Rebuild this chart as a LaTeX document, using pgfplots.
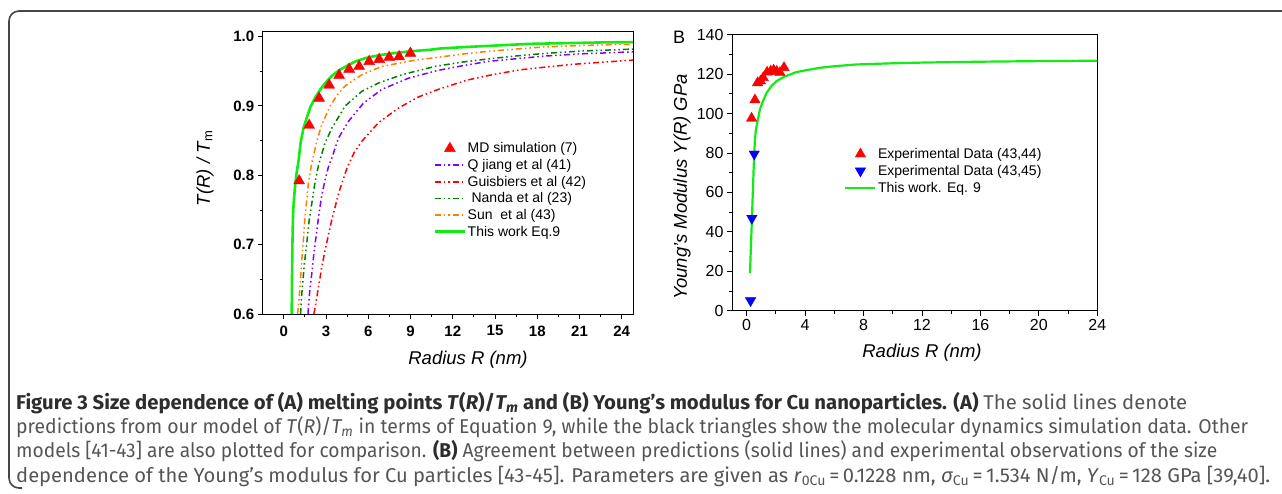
\documentclass[border=0pt]{standalone}
\usepackage{fontspec}
\setmainfont{Liberation Sans}
\newfontfamily\capfont{Fira Sans}
\usepackage{graphicx}
\usepackage{pgfplots}
\pgfplotsset{compat=1.18}

\definecolor{eqgreen}{RGB}{20,235,20}
\definecolor{qpurple}{RGB}{128,0,255}
\definecolor{gred}{RGB}{255,0,0}
\definecolor{ndgreen}{RGB}{0,128,0}
\definecolor{sorange}{RGB}{255,128,0}
\definecolor{eblue}{RGB}{0,0,255}
\definecolor{capdark}{RGB}{45,45,45}
\definecolor{capgray}{RGB}{85,85,85}
\definecolor{frame}{RGB}{70,70,70}

\newsavebox\capbox
\newlength\caplen
\newcommand\fitline[2]{\sbox\capbox{#2}\setlength\caplen{\wd\capbox}\pgfmathsetmacro\capscale{#1/\caplen}\scalebox{\capscale}[1]{\usebox\capbox}}

\tikzset{ddd/.style={dash pattern=on 6pt off 3pt on 1.5pt off 3pt on 1.5pt off 3pt, line width=1.5pt}}

\pgfplotsset{
  common/.style={
    scale only axis, anchor=south west,
    tick align=outside, tick pos=left,
    major tick length=5pt, minor tick length=3pt,
    minor x tick num=1, minor y tick num=1,
    axis line style={line width=1pt},
    every tick/.style={black, line width=0.9pt},
    /pgf/number format/assume math mode=true,
    legend cell align=left,
    legend image code/.code={\pgfpathrectangle{\pgfpoint{0pt}{-4pt}}{\pgfpoint{30pt}{8pt}}\pgfusepath{}\draw[mark repeat=2,mark phase=2,##1] plot coordinates {(0pt,0pt) (15pt,0pt) (30pt,0pt)};},
  }
}

\begin{document}
\begin{tikzpicture}
\useasboundingbox (0pt,0pt) rectangle (1282pt,493pt);
\draw[color=frame, line width=1.6pt] (1282pt,482pt) -- (19pt,482pt) arc[start angle=90,end angle=180,radius=10pt] -- (9pt,15pt) arc[start angle=180,end angle=270,radius=10pt] -- (22pt,5pt);

% ---------------- Panel A ----------------
\begin{axis}[common,
  at={(262.7pt,179pt)},
  width=370.3pt, height=282.3pt,
  xmin=-1.5, xmax=24.8, ymin=0.6, ymax=1.007,
  xtick={0,3,...,24}, ytick={0.6,0.7,0.8,0.9,1.0},
  ticklabel style={font=\fontsize{15}{15}\selectfont\bfseries},
  xticklabel style={yshift=-3pt},
  yticklabel style={/pgf/number format/.cd, fixed, fixed zerofill, precision=1},
  legend style={draw=none, fill=none, at={(0.461,0.613)}, anchor=north west,
    font=\fontsize{14}{14}\selectfont, row sep=2pt, inner sep=0pt,
    nodes={inner sep=1.5pt}},
]
\addplot[only marks, mark=triangle*, mark size=6.3pt, color=gred] coordinates {
(1.09,0.792) (1.80,0.872) (2.51,0.911) (3.22,0.930) (3.93,0.944) (4.64,0.953)
(5.35,0.957) (6.06,0.964) (6.77,0.967) (7.48,0.970) (8.19,0.971) (8.99,0.976)};
\addlegendentry{MD simulation (7)}

\addplot[ddd, color=qpurple] coordinates {
(1.72,0.600) (1.75,0.611) (1.85,0.635) (1.99,0.659) (2.15,0.690) (2.35,0.721)
(2.50,0.745) (2.70,0.772) (2.95,0.795) (3.18,0.813) (3.41,0.825) (3.89,0.854)
(4.60,0.878) (5.66,0.904) (6.97,0.924) (8.86,0.940) (10.9,0.951) (12.7,0.958)
(14.64,0.9645) (16.5,0.968) (18.43,0.9717) (21.0,0.975) (23.6,0.977) (24.8,0.978)};
\addlegendentry{Q jiang et al (41)}

\addplot[ddd, color=gred] coordinates {
(2.13,0.600) (2.23,0.610) (2.47,0.640) (2.70,0.668) (2.94,0.693) (3.41,0.736)
(3.89,0.774) (4.48,0.810) (5.00,0.833) (5.54,0.849) (6.73,0.876) (8.15,0.897)
(9.57,0.913) (10.99,0.924) (12.98,0.937) (14.8,0.945) (16.77,0.952) (18.6,0.956)
(20.56,0.960) (22.6,0.963) (24.8,0.966)};
\addlegendentry{Guisbiers et al (42)}

\addplot[ddd, color=ndgreen] coordinates {
(1.19,0.600) (1.28,0.630) (1.45,0.670) (1.63,0.702) (1.80,0.735) (1.99,0.760)
(2.20,0.788) (2.47,0.815) (2.90,0.845) (3.41,0.868) (4.36,0.900) (5.54,0.921)
(6.73,0.933) (8.39,0.945) (10.75,0.957) (12.6,0.963) (14.64,0.968) (16.5,0.972)
(18.43,0.9755) (21.0,0.979) (23.6,0.981) (24.8,0.982)};
\addlegendentry{\ Nanda et al (23)}

\addplot[ddd, color=sorange] coordinates {
(0.97,0.600) (1.04,0.611) (1.15,0.640) (1.28,0.678) (1.40,0.710) (1.51,0.741)
(1.63,0.765) (1.75,0.790) (1.99,0.818) (2.35,0.850) (2.70,0.873) (3.29,0.900)
(3.80,0.916) (4.36,0.929) (5.54,0.945) (6.97,0.957) (9.33,0.966) (10.9,0.970)
(12.8,0.975) (14.64,0.979) (16.5,0.982) (18.43,0.985) (21.0,0.987) (23.6,0.9885) (24.8,0.989)};
\addlegendentry{Sun\ \ et al (43)}

\addplot[color=eqgreen, line width=2.6pt] coordinates {
(0.56,0.600) (0.58,0.650) (0.61,0.700) (0.65,0.740) (0.70,0.760) (0.80,0.785)
(0.92,0.805) (1.04,0.820) (1.20,0.848) (1.40,0.868) (1.63,0.883) (1.90,0.899)
(2.23,0.912) (2.60,0.924) (2.94,0.933) (3.40,0.943) (3.89,0.951) (4.50,0.958)
(5.07,0.964) (5.80,0.969) (6.73,0.973) (7.80,0.976) (9.10,0.979) (10.4,0.981)
(11.2,0.983) (13.0,0.985) (15.0,0.987) (17.5,0.9895) (20.0,0.9905) (22.5,0.9915) (24.8,0.992)};
\addlegendentry{This work Eq.9}
\end{axis}

% ---------------- Panel B ----------------
\begin{axis}[common,
  at={(732pt,182.3pt)},
  width=365.3pt, height=276pt,
  xmin=-1, xmax=24, ymin=0, ymax=140,
  xtick={0,4,...,24}, ytick={0,20,...,140},
  ticklabel style={font=\fontsize{16}{16}\selectfont},
  legend style={draw=none, fill=none, at={(0.307,0.595)}, anchor=north west,
    font=\fontsize{14}{14}\selectfont, row sep=2.3pt, inner sep=0pt,
    nodes={inner sep=1.5pt}},
]
\addplot[only marks, mark=triangle*, mark size=6pt, color=gred] coordinates {
(0.34,97.6) (0.57,106.9) (0.75,115.6) (0.95,116.5) (1.14,118.2) (1.40,121.0)
(1.65,121.5) (1.85,122.0) (2.06,121.4) (2.28,120.8) (2.56,123.3)};
\addlegendentry{Experimental Data (43,44)}

\addplot[only marks, mark=triangle*, mark size=6pt, mark options={rotate=180}, color=eblue] coordinates {
(0.27,5.1) (0.36,46.9) (0.52,79.5)};
\addlegendentry{Experimental Data (43,45)}

\addplot[color=eqgreen, line width=2.2pt] coordinates {
(0.23,19) (0.36,46) (0.50,76) (0.57,87) (0.64,92) (0.80,98) (0.91,102) (1.10,106)
(1.37,110.5) (1.70,114) (2.06,116.5) (2.60,118.8) (3.40,121) (4.00,121.9) (5.00,123.2)
(6.00,124) (7.50,124.9) (10.0,125.5) (12.3,125.9) (16.0,126.3) (20.0,126.6) (24.0,126.8)};
\addlegendentry{This work. Eq. 9}
\end{axis}

% ---------------- labels ----------------
\node[font=\fontsize{18.5}{18.5}\selectfont\itshape] at (468pt,133pt) {Radius R (nm)};
\node[font=\fontsize{18.5}{18.5}\selectfont\itshape] at (922pt,140pt) {Radius R (nm)};
\node[rotate=90, font=\fontsize{18.5}{18.5}\selectfont] at (205pt,325pt) {\textit{T(R) / T}\textsubscript{m}};
\node[rotate=90, font=\fontsize{18.5}{18.5}\selectfont\itshape] at (682pt,306pt) {Young's Modulus Y(R) GPa};
\node[font=\fontsize{18}{18}\selectfont] at (679pt,456pt) {B};

% ---------------- caption ----------------
\begin{scope}[every node/.style={anchor=base west, inner sep=0pt}]
\node at (16pt,84pt) {\fitline{1171}{\capfont\fontsize{20}{22}\selectfont\color{capdark}\bfseries Figure 3 Size dependence of (A) melting points \textit{T}(\textit{R})/\textit{T\textsubscript{m}} and (B) Young’s modulus for Cu nanoparticles. (A) {\mdseries\color{capgray}The solid lines denote}}};
\node at (16pt,60pt) {\fitline{1232}{\capfont\fontsize{20}{22}\selectfont\color{capgray}predictions from our model of \textit{T}(\textit{R})/\textit{T\textsubscript{m}} in terms of Equation 9, while the black triangles show the molecular dynamics simulation data. Other}};
\node at (16pt,35.5pt) {\fitline{1201}{\capfont\fontsize{20}{22}\selectfont\color{capgray}models [41-43] are also plotted for comparison. {\color{capdark}\bfseries(B)} Agreement between predictions (solid lines) and experimental observations of the size}};
\node at (16pt,11pt) {\fitline{1254}{\capfont\fontsize{20}{22}\selectfont\color{capgray}dependence of the Young’s modulus for Cu particles [43-45]. Parameters are given as \textit{r}\textsubscript{0Cu}\,=\,0.1228 nm, \textit{σ}\textsubscript{Cu}\,=\,1.534 N/m, \textit{Y}\textsubscript{Cu}\,=\,128 GPa [39,40].}};
\end{scope}
\end{tikzpicture}
\end{document}
